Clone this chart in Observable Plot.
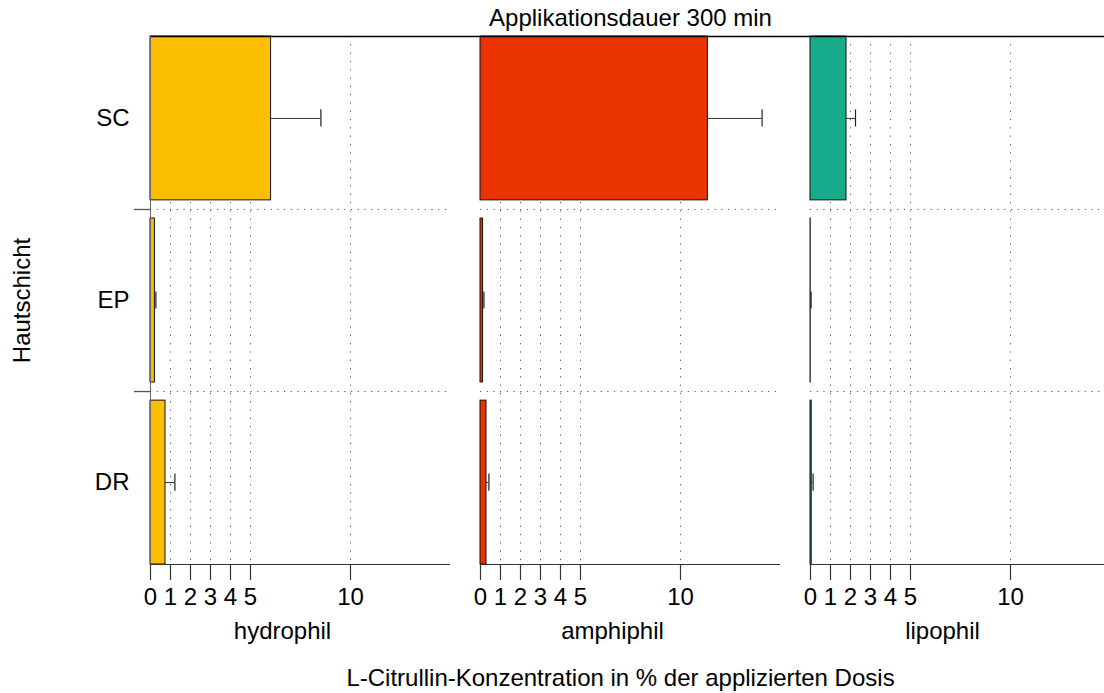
<!DOCTYPE html>
<html>
<head>
<meta charset="utf-8">
<script src="https://cdn.jsdelivr.net/npm/d3@7"></script>
<script src="https://cdn.jsdelivr.net/npm/@observablehq/plot@0.6"></script>
<style>
  html, body { margin: 0; padding: 0; background: #fff; overflow: hidden; }
  #chart { width: 1104px; height: 693px; overflow: hidden; }
  #chart svg { max-width: none !important; width: 1110px !important; height: 693px !important; }
</style>
</head>
<body>
<div id="chart"></div>
<script>
// ---- data ----
const formulations = ["hydrophil", "amphiphil", "lipophil"];
const layers = ["SC", "EP", "DR"];
const hydrophilMean = [6.03, 0.22, 0.75];
const hydrophilErr  = [2.49, 0.05, 0.47];
const amphiphilMean = [11.37, 0.13, 0.30];
const amphiphilErr  = [2.71, 0.04, 0.12];
const lipophilMean  = [1.80, 0.01, 0.06];
const lipophilErr   = [0.45, 0.02, 0.07];
const xTicks = [0, 1, 2, 3, 4, 5, 10];
const gridTicks = [1, 2, 3, 4, 5, 10];
const colors = ["#FBBF00", "#EB3300", "#16AB8A"];
const titleText = "Applikationsdauer 300 min";
const xLabel = "L-Citrullin-Konzentration in % der applizierten Dosis";
const yLabel = "Hautschicht";

const means = {hydrophil: hydrophilMean, amphiphil: amphiphilMean, lipophil: lipophilMean};
const errs = {hydrophil: hydrophilErr, amphiphil: amphiphilErr, lipophil: lipophilErr};
const data = formulations.flatMap(f => layers.map((l, i) => ({form: f, layer: l, i, value: means[f][i], err: errs[f][i]})));
const rowIdx = layers.map((l, i) => ({layer: l, i}));
const seps = layers.slice(1).map((l, i) => i + 0.5);

const half = 0.45, cap = 0.047;
const yTop = -half, yBottom = layers.length - 1 + half;
const font = "'Liberation Sans', Arial, Helvetica, sans-serif";

const chart = Plot.plot({
  width: 1110,
  height: 693,
  marginLeft: 150,
  marginRight: 0,
  marginTop: 36,
  marginBottom: 129,
  style: {fontFamily: font, fontSize: "24px", background: "#fff", overflow: "visible"},
  fx: {domain: formulations, paddingInner: 30 / 330, paddingOuter: 0, round: false, axis: null},
  x: {domain: [0, 15], axis: null},
  y: {domain: [yTop, yBottom], reverse: true, axis: null},
  color: {domain: formulations, range: colors},
  marks: [
    Plot.ruleX(gridTicks, {y1: yTop, y2: yBottom, stroke: "#555", strokeWidth: 1, strokeDasharray: "1.2,7.1"}),
    Plot.ruleY(seps, {x1: 0, x2: 15, stroke: "#555", strokeWidth: 1, strokeDasharray: "1.2,5.5"}),
    Plot.rect(data, {fx: "form", x1: 0, x2: "value", y1: d => d.i - half, y2: d => d.i + half, fill: "form", stroke: "#111", strokeWidth: 1}),
    Plot.ruleY(data, {fx: "form", y: "i", x1: "value", x2: d => d.value + d.err, stroke: "#333", strokeWidth: 1}),
    Plot.ruleX(data, {fx: "form", x: d => d.value + d.err, y1: d => d.i - cap, y2: d => d.i + cap, stroke: "#222", strokeWidth: 1.2}),
    Plot.ruleY([yTop], {x1: 0, x2: 16.5, stroke: "#000", strokeWidth: 1.3}),
    Plot.ruleY([yBottom], {x1: 0, x2: 15, stroke: "#333", strokeWidth: 1.2}),
    Plot.axisX({ticks: xTicks, tickSize: 16, tickPadding: 7, fontSize: 24, label: null, stroke: "#333", strokeWidth: 1.2, anchor: "bottom"}),
    Plot.ruleX([0], {fx: () => formulations[0], y1: yTop, y2: yBottom, stroke: "#666", strokeWidth: 1}),
    Plot.ruleY(seps, {fx: () => formulations[0], x1: -0.8, x2: 0, stroke: "#555", strokeWidth: 1.3}),
    Plot.text(rowIdx, {fx: () => formulations[0], x: 0, y: "i", text: "layer", dx: -21, textAnchor: "end", lineAnchor: "middle", fontSize: 24, fill: "#000"}),
    Plot.text([yLabel], {fx: () => formulations[0], y: () => (layers.length - 1) / 2, frameAnchor: "left", dx: -128, rotate: -90, textAnchor: "middle", lineAnchor: "middle", fontSize: 24, fill: "#000"}),
    Plot.text(formulations, {fx: d => d, x: () => 6.6, frameAnchor: "bottom", dy: 67, textAnchor: "middle", lineAnchor: "middle", text: d => d, fontSize: 24, fill: "#000"}),
    Plot.text([titleText], {fx: () => formulations[1], frameAnchor: "top", dy: -18, textAnchor: "middle", lineAnchor: "middle", fontSize: 24, fill: "#000"}),
    Plot.text([xLabel], {fx: () => formulations[1], x: () => 7, frameAnchor: "bottom", dy: 114, textAnchor: "middle", lineAnchor: "middle", fontSize: 24, fill: "#000"})
  ]
});
document.getElementById("chart").appendChild(chart);
</script>
</body>
</html>
